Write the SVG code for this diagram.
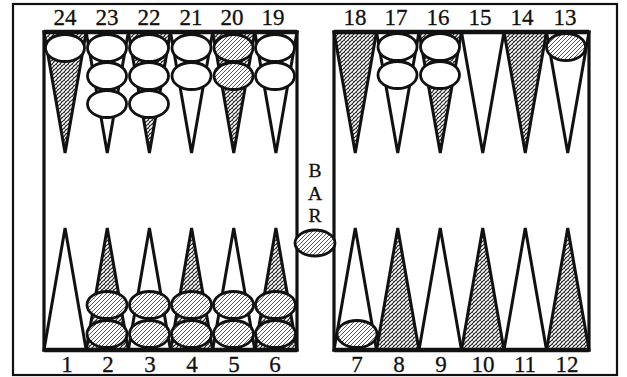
<svg xmlns="http://www.w3.org/2000/svg" width="627" height="377" viewBox="0 0 627 377">
<style>
.frame{fill:none;stroke:#111;stroke-width:2.2}
.board{fill:#fff;stroke:#111;stroke-width:3.2}
.pt{stroke:#111;stroke-width:3;stroke-linejoin:miter}
.w{fill:#fff}
.s{fill:url(#ptHatch)}
.ck{stroke:#111;stroke-width:2.8}
.cw{fill:#fff}
.cs{fill:url(#ckHatch)}
.lbl{font-family:"Liberation Serif","Times New Roman",serif;font-size:23px;fill:#111;stroke:#111;stroke-width:0.3;text-anchor:middle}
.bar{font-size:19.5px}
</style>
<defs>
<pattern id="ptHatch" width="4" height="4" patternUnits="userSpaceOnUse">
<rect width="4" height="4" fill="#fff"/>
<path d="M0,4 L4,0 M-1,1 L1,-1 M3,5 L5,3" stroke="#222" stroke-width="1.1"/>
<path d="M0,0 L2,2" stroke="#444" stroke-width="0.8"/>
</pattern>
<pattern id="ckHatch" width="4" height="4" patternUnits="userSpaceOnUse">
<rect width="4" height="4" fill="#fff"/>
<path d="M0,4 L4,0 M-1,1 L1,-1 M3,5 L5,3" stroke="#444" stroke-width="0.9"/>
</pattern>
</defs>
<rect width="627" height="377" fill="#fff"/>
<rect id="frame" class="frame" x="13" y="4" width="604" height="371"/>
<g id="left-board"><rect class="board" x="44" y="32" width="253" height="318"/></g>
<g id="right-board"><rect class="board" x="334" y="32" width="255" height="318"/></g>

<g id="top-points">
<polygon id="p24" class="pt s" points="44,32 86.17,32 65.08,153"/>
<polygon id="p23" class="pt w" points="86.17,32 128.33,32 107.25,153"/>
<polygon id="p22" class="pt s" points="128.33,32 170.5,32 149.42,153"/>
<polygon id="p21" class="pt w" points="170.5,32 212.67,32 191.58,153"/>
<polygon id="p20" class="pt s" points="212.67,32 254.83,32 233.75,153"/>
<polygon id="p19" class="pt w" points="254.83,32 297,32 275.92,153"/>
<polygon id="p18" class="pt s" points="334,32 376.5,32 355.25,153"/>
<polygon id="p17" class="pt w" points="376.5,32 419,32 397.75,153"/>
<polygon id="p16" class="pt s" points="419,32 461.5,32 440.25,153"/>
<polygon id="p15" class="pt w" points="461.5,32 504,32 482.75,153"/>
<polygon id="p14" class="pt s" points="504,32 546.5,32 525.25,153"/>
<polygon id="p13" class="pt w" points="546.5,32 589,32 567.75,153"/>
</g>
<g id="bottom-points">
<polygon id="p1" class="pt w" points="44,350 86.17,350 65.08,228"/>
<polygon id="p2" class="pt s" points="86.17,350 128.33,350 107.25,228"/>
<polygon id="p3" class="pt w" points="128.33,350 170.5,350 149.42,228"/>
<polygon id="p4" class="pt s" points="170.5,350 212.67,350 191.58,228"/>
<polygon id="p5" class="pt w" points="212.67,350 254.83,350 233.75,228"/>
<polygon id="p6" class="pt s" points="254.83,350 297,350 275.92,228"/>
<polygon id="p7" class="pt w" points="334,350 376.5,350 355.25,228"/>
<polygon id="p8" class="pt s" points="376.5,350 419,350 397.75,228"/>
<polygon id="p9" class="pt w" points="419,350 461.5,350 440.25,228"/>
<polygon id="p10" class="pt s" points="461.5,350 504,350 482.75,228"/>
<polygon id="p11" class="pt w" points="504,350 546.5,350 525.25,228"/>
<polygon id="p12" class="pt s" points="546.5,350 589,350 567.75,228"/>
</g>
<g id="edges">
<line x1="44" y1="32" x2="297" y2="32" stroke="#111" stroke-width="4.5"/>
<line x1="334" y1="32" x2="589" y2="32" stroke="#111" stroke-width="4.5"/>
<line x1="44" y1="350" x2="297" y2="350" stroke="#111" stroke-width="4.5"/>
<line x1="334" y1="350" x2="589" y2="350" stroke="#111" stroke-width="4.5"/>
</g>

<g id="checkers-top">
<ellipse class="ck cw" cx="65" cy="48" rx="19.5" ry="13.5"/>
<ellipse class="ck cw" cx="107" cy="48" rx="19.5" ry="13.5"/>
<ellipse class="ck cw" cx="107" cy="76" rx="19.5" ry="13.5"/>
<ellipse class="ck cw" cx="107" cy="104" rx="19.5" ry="13.5"/>
<ellipse class="ck cw" cx="149" cy="48" rx="19.5" ry="13.5"/>
<ellipse class="ck cw" cx="149" cy="76" rx="19.5" ry="13.5"/>
<ellipse class="ck cw" cx="149" cy="104" rx="19.5" ry="13.5"/>
<ellipse class="ck cw" cx="191.5" cy="48" rx="19.5" ry="13.5"/>
<ellipse class="ck cw" cx="191.5" cy="76" rx="19.5" ry="13.5"/>
<ellipse class="ck cs" cx="233.5" cy="48" rx="19.5" ry="13.5"/>
<ellipse class="ck cs" cx="233.5" cy="76" rx="19.5" ry="13.5"/>
<ellipse class="ck cw" cx="275" cy="48" rx="19.5" ry="13.5"/>
<ellipse class="ck cw" cx="275" cy="76" rx="19.5" ry="13.5"/>
<ellipse class="ck cw" cx="397.5" cy="47" rx="19.5" ry="13.5"/>
<ellipse class="ck cw" cx="397.5" cy="75" rx="19.5" ry="13.5"/>
<ellipse class="ck cw" cx="440" cy="47" rx="19.5" ry="13.5"/>
<ellipse class="ck cw" cx="440" cy="75" rx="19.5" ry="13.5"/>
<ellipse class="ck cs" cx="566" cy="47" rx="19.5" ry="13.5"/>
</g>
<g id="checkers-bottom">
<ellipse class="ck cs" cx="107" cy="305" rx="20" ry="13.5"/>
<ellipse class="ck cs" cx="107" cy="334" rx="20" ry="13.5"/>
<ellipse class="ck cs" cx="149.5" cy="305" rx="20" ry="13.5"/>
<ellipse class="ck cs" cx="149.5" cy="334" rx="20" ry="13.5"/>
<ellipse class="ck cs" cx="191.5" cy="305" rx="20" ry="13.5"/>
<ellipse class="ck cs" cx="191.5" cy="334" rx="20" ry="13.5"/>
<ellipse class="ck cs" cx="233.5" cy="305" rx="20" ry="13.5"/>
<ellipse class="ck cs" cx="233.5" cy="334" rx="20" ry="13.5"/>
<ellipse class="ck cs" cx="275.5" cy="305" rx="20" ry="13.5"/>
<ellipse class="ck cs" cx="275.5" cy="334" rx="20" ry="13.5"/>
<ellipse class="ck cs" cx="357" cy="334" rx="20" ry="13.5"/>
</g>
<g id="bar">
<text class="lbl bar" x="315" y="177">B</text>
<text class="lbl bar" x="315" y="199.5">A</text>
<text class="lbl bar" x="315" y="222">R</text>
<ellipse class="ck cs" cx="315" cy="243" rx="20" ry="13"/>
</g>

<g id="labels-top">
<text class="lbl" x="65" y="25">24</text>
<text class="lbl" x="107" y="25">23</text>
<text class="lbl" x="149" y="25">22</text>
<text class="lbl" x="191" y="25">21</text>
<text class="lbl" x="232" y="25">20</text>
<text class="lbl" x="273" y="25">19</text>
<text class="lbl" x="355" y="25">18</text>
<text class="lbl" x="396" y="25">17</text>
<text class="lbl" x="438" y="25">16</text>
<text class="lbl" x="480" y="25">15</text>
<text class="lbl" x="522" y="25">14</text>
<text class="lbl" x="565" y="25">13</text>
</g>
<g id="labels-bottom">
<text class="lbl" x="67" y="372">1</text>
<text class="lbl" x="108" y="372">2</text>
<text class="lbl" x="150" y="372">3</text>
<text class="lbl" x="192" y="372">4</text>
<text class="lbl" x="234" y="372">5</text>
<text class="lbl" x="275" y="372">6</text>
<text class="lbl" x="357" y="372">7</text>
<text class="lbl" x="399" y="372">8</text>
<text class="lbl" x="441" y="372">9</text>
<text class="lbl" x="483" y="372">10</text>
<text class="lbl" x="525" y="372">11</text>
<text class="lbl" x="567" y="372">12</text>
</g>
</svg>
